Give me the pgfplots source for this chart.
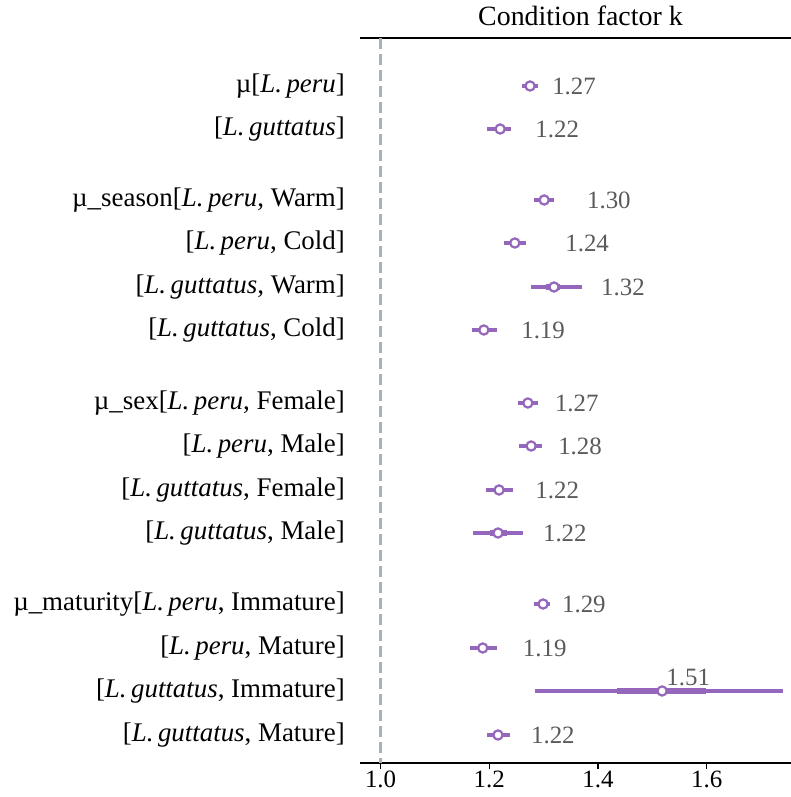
\documentclass[border=0pt]{standalone}
\usepackage{fontspec}
\setmainfont{Liberation Serif}
\usepackage{pgfplots}
\usepackage{pgfplotstable}
\pgfplotsset{compat=1.18}
\definecolor{purp}{HTML}{9467BD}
\definecolor{vtxt}{HTML}{5A5A5A}
\definecolor{refl}{HTML}{A5B1BD}
\pgfplotstableread{
y mean lo hi tlo thi
-86 1.275 1.260 1.290 1.271 1.279
-129 1.220 1.196 1.240 1.215 1.225
-200 1.301 1.282 1.319 1.296 1.306
-243 1.247 1.227 1.267 1.242 1.252
-287 1.319 1.277 1.371 1.304 1.330
-330 1.190 1.168 1.214 1.185 1.195
-403 1.271 1.253 1.290 1.266 1.276
-446 1.277 1.255 1.297 1.272 1.282
-490 1.218 1.194 1.244 1.213 1.223
-533 1.216 1.170 1.262 1.201 1.233
-604 1.299 1.282 1.312 1.294 1.304
-648 1.188 1.164 1.214 1.183 1.193
-691 1.518 1.284 1.740 1.435 1.599
-735 1.216 1.196 1.238 1.211 1.221
}\est
\begin{document}
\begin{tikzpicture}
\begin{axis}[
  name=ax,
  scale only axis, width=431bp, height=725bp,
  xmin=0.9621, xmax=1.7551, ymin=-763, ymax=-38,
  separate axis lines,
  x axis line style={black, line width=1.3bp},
  y axis line style={draw=none},
  xtick={1.0,1.2,1.4,1.6},
  xticklabels={1.0,1.2,1.4,1.6},
  xtick pos=left, xtick align=outside,
  major tick length=6bp,
  xtick style={black, line width=1.3bp},
  xticklabel style={font=\fontsize{25}{30}\selectfont, inner sep=0pt, yshift=-2bp},
  ytick={-86,-129,-200,-243,-287,-330,-403,-446,-490,-533,-604,-648,-691,-735},
  yticklabels={
    {µ[\textit{L.\,peru}]},
    {[\textit{L.\,guttatus}]},
    {µ\_season[\textit{L.\,peru}, Warm]},
    {[\textit{L.\,peru}, Cold]},
    {[\textit{L.\,guttatus}, Warm]},
    {[\textit{L.\,guttatus}, Cold]},
    {µ\_sex[\textit{L.\,peru}, Female]},
    {[\textit{L.\,peru}, Male]},
    {[\textit{L.\,guttatus}, Female]},
    {[\textit{L.\,guttatus}, Male]},
    {µ\_maturity[\textit{L.\,peru}, Immature]},
    {[\textit{L.\,peru}, Mature]},
    {[\textit{L.\,guttatus}, Immature]},
    {[\textit{L.\,guttatus}, Mature]}},
  ytick style={draw=none},
  yticklabel style={font=\fontsize{27}{32}\selectfont, anchor=east, inner sep=0pt, xshift=-15bp},
  /pgf/number format/assume math mode=true,
  title={Condition factor k},
  title style={at={(0.5,1)}, anchor=base, yshift=7bp, xshift=5bp, inner sep=0pt, font=\fontsize{28}{34}\selectfont},
  clip=false,
]
\addplot[refl, line width=2.6bp, dash pattern=on 11bp off 5bp] coordinates {(1,-38) (1,-763)};
\addplot[draw=none, mark=none, error bars/.cd, x dir=both, x explicit, error mark=none,
  error bar style={purp, line width=3.2bp}]
  table[x=mean, y=y, x error plus expr=\thisrow{hi}-\thisrow{mean}, x error minus expr=\thisrow{mean}-\thisrow{lo}] {\est};
\addplot[draw=none, mark=none, error bars/.cd, x dir=both, x explicit, error mark=none,
  error bar style={purp, line width=6.2bp}]
  table[x=mean, y=y, x error plus expr=\thisrow{thi}-\thisrow{mean}, x error minus expr=\thisrow{mean}-\thisrow{tlo}] {\est};
\addplot[only marks, mark=*, mark size=4.6bp, mark options={draw=purp, fill=white, line width=2.2bp}]
  table[x=mean, y=y] {\est};
\begin{scope}[every node/.style={font=\fontsize{25}{30}\selectfont, text=vtxt, anchor=center, inner sep=0pt}]
\node at (axis cs:1.356,-86) {1.27};
\node at (axis cs:1.325,-129) {1.22};
\node at (axis cs:1.420,-200) {1.30};
\node at (axis cs:1.380,-243) {1.24};
\node at (axis cs:1.446,-287) {1.32};
\node at (axis cs:1.299,-330) {1.19};
\node at (axis cs:1.361,-403) {1.27};
\node at (axis cs:1.367,-446) {1.28};
\node at (axis cs:1.325,-490) {1.22};
\node at (axis cs:1.339,-533) {1.22};
\node at (axis cs:1.374,-604) {1.29};
\node at (axis cs:1.302,-648) {1.19};
\node at (axis cs:1.566,-677) {1.51};
\node at (axis cs:1.317,-735) {1.22};
\end{scope}
\end{axis}
\pgfresetboundingbox
\path[use as bounding box] ([xshift=-360bp,yshift=-34bp]ax.south west) rectangle ([yshift=38bp]ax.north east);
\end{tikzpicture}
\end{document}
